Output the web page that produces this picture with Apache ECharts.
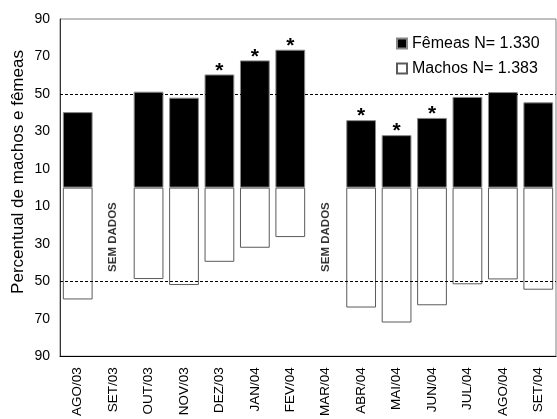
<!DOCTYPE html>
<html>
<head>
<meta charset="utf-8">
<script src="https://cdn.jsdelivr.net/npm/echarts@6/dist/echarts.min.js"></script>
<style>
  html, body { margin: 0; padding: 0; background: #fff; }
  #chart { width: 557px; height: 419px; }
</style>
</head>
<body>
<div id="chart"></div>
<script>
// Monthly sex ratio: females above zero, males below (percent)
const categories = ['AGO/03','SET/03','OUT/03','NOV/03','DEZ/03','JAN/04','FEV/04','MAR/04','ABR/04','MAI/04','JUN/04','JUL/04','AGO/04','SET/04'];
const femeas = [40.3, null, 51.2, 48.0, 60.4, 67.9, 73.6, null, 36.0, 28.0, 37.2, 48.4, 51.0, 45.5];
const machos = [59.7, null, 48.8, 52.0, 39.6, 32.1, 26.4, null, 64.0, 72.0, 62.8, 51.6, 49.0, 54.5];
const significativos = ['DEZ/03','JAN/04','FEV/04','ABR/04','MAI/04','JUN/04'];
const semDados = ['SET/03','MAR/04'];
const yTicks = [-90, -70, -50, -30, -10, 10, 30, 50, 70, 90];
const linhasRef = [50, -50];
const tituloY = 'Percentual de machos e fêmeas';

const FONT = '"Liberation Sans", Arial, sans-serif';

const femData = femeas.map((v, i) => {
  if (v === null) return null;
  const star = significativos.includes(categories[i]);
  return {
    value: v,
    label: star ? {
      show: true, position: 'top', distance: -7, formatter: '*',
      fontSize: 21, fontWeight: 'bold', color: '#000', fontFamily: FONT
    } : { show: false }
  };
});
const macData = machos.map(v => v === null ? null : -v);
const semDadosData = semDados.map(c => [c, -28]);

const chart = echarts.init(document.getElementById('chart'));
chart.setOption({
  animation: false,
  backgroundColor: '#fff',
  grid: {
    left: 60, right: 1, top: 19, bottom: 60,
    show: true, borderColor: '#808080', borderWidth: 1
  },
  graphic: [{
    type: 'text',
    x: 18, y: 172,
    rotation: Math.PI / 2,
    style: {
      text: tituloY,
      fontSize: 17, fontFamily: FONT, fill: '#000',
      align: 'center', verticalAlign: 'middle'
    }
  }],
  legend: {
    data: ['Fêmeas N= 1.330', 'Machos N= 1.383'],
    orient: 'vertical',
    left: 391, top: 30,
    itemWidth: 10, itemHeight: 10, itemGap: 8,
    icon: 'rect',
    textStyle: { fontSize: 16, color: '#000', fontFamily: FONT, lineHeight: 17 }
  },
  xAxis: {
    type: 'category',
    data: categories,
    axisLine: { onZero: false, lineStyle: { color: '#000', width: 1 } },
    axisTick: { show: false },
    axisLabel: {
      rotate: 90, fontSize: 13.5, color: '#000', fontFamily: FONT,
      margin: 11, interval: 0
    }
  },
  yAxis: {
    type: 'value',
    min: -90, max: 90, interval: 10,
    splitLine: { show: false },
    axisTick: { show: false },
    axisLine: { show: true, lineStyle: { color: '#333', width: 1 } },
    axisLabel: {
      fontSize: 14, color: '#000', fontFamily: FONT, margin: 10,
      formatter: v => yTicks.includes(v) ? String(Math.abs(v)) : ''
    }
  },
  series: [
    {
      name: 'Fêmeas N= 1.330',
      type: 'bar',
      data: femData,
      barGap: '-100%',
      barCategoryGap: '16%',
      itemStyle: { color: '#000', borderColor: '#888', borderWidth: 1 },
      markLine: {
        silent: true,
        symbol: ['none', 'none'],
        label: { show: false },
        lineStyle: { color: '#000', type: [3, 2], width: 1 },
        data: linhasRef.map(v => ({ yAxis: v }))
      }
    },
    {
      name: 'Machos N= 1.383',
      type: 'bar',
      data: macData,
      barGap: '-100%',
      barCategoryGap: '16%',
      itemStyle: { color: '#fff', borderColor: '#5a5a5a', borderWidth: 1 }
    },
    {
      name: 'semdados',
      type: 'scatter',
      data: semDadosData,
      symbolSize: 0,
      silent: true,
      label: {
        show: true, formatter: 'SEM DADOS', position: 'inside',
        rotate: 90, offset: [3, 0],
        fontSize: 11.5, fontWeight: 'bold', color: '#000', fontFamily: FONT
      }
    }
  ]
});
</script>
</body>
</html>
